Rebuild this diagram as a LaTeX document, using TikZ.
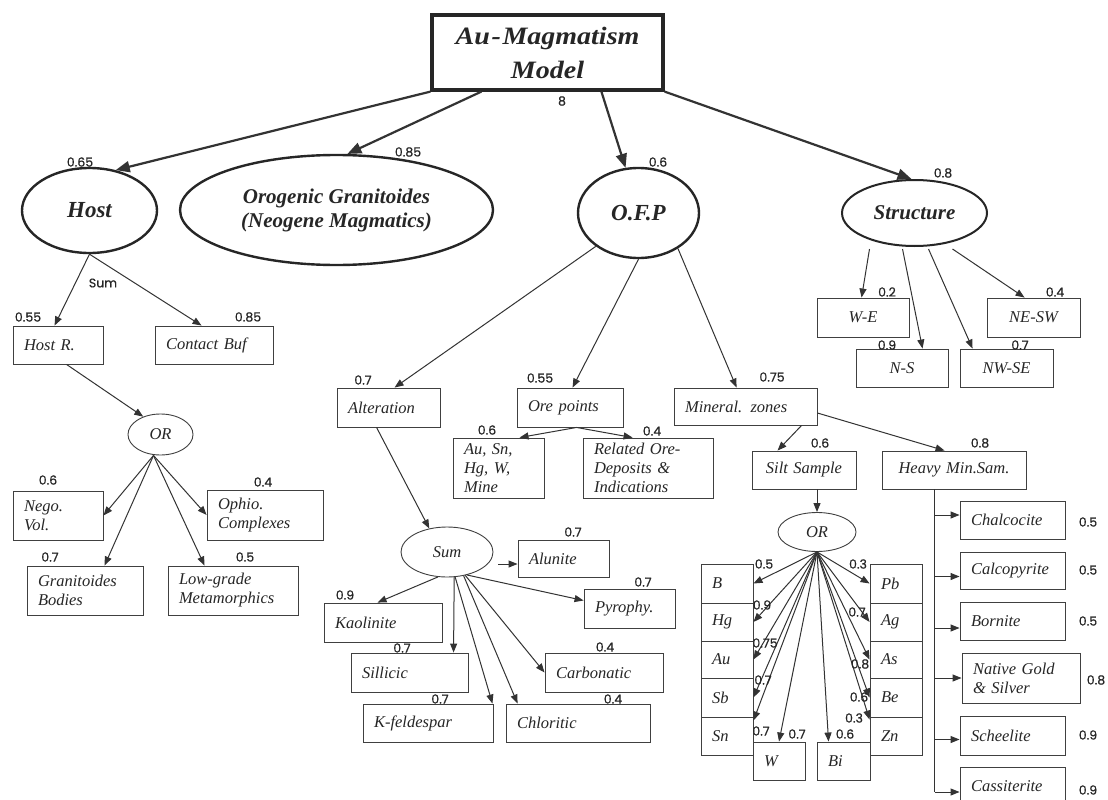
\documentclass[tikz,border=0pt]{standalone}
\usepackage{graphicx}
\usepackage{fontspec}
\setmainfont{Liberation Serif}
\newfontfamily\hand{Poppins}[FakeBold=0.6]
\usetikzlibrary{arrows.meta,calc,shapes.geometric}
\tikzset{
  ln/.style={draw=black!80, line width=1pt},
  arr/.style={ln, -{Triangle[length=9pt,width=7pt]}},
  bigarr/.style={draw=black!80, line width=2.2pt, -{Triangle[length=14pt,width=11pt]}},
  box/.style={draw=black!75, line width=0.9pt, rectangle, inner xsep=11pt, inner ysep=0pt,
    font=\fontsize{16.5}{19}\selectfont\itshape, text=black!85},
  bigell/.style={draw=black!85, ellipse, line width=2.4pt, inner sep=0pt,
    font=\fontsize{23}{26}\selectfont\bfseries\itshape, text=black!85},
  smell/.style={draw=black!75, ellipse, line width=0.9pt, inner sep=0pt,
    font=\fontsize{16.5}{19}\selectfont\itshape, text=black!85},
  num/.style={font=\hand\fontsize{12.5}{14}\selectfont, text=black!85, inner sep=0pt},
}
\newcommand\mkbox[7][left]{%
  \pgfmathsetmacro\bxw{#5-#3}%
  \pgfmathsetmacro\bxh{#6-#4}%
  \pgfmathsetmacro\bxt{#5-#3-22}%
  \node[box, minimum width=\bxw pt, minimum height=\bxh pt, text width=\bxt pt, align=#1]
    (#2) at ({(#3+#5)/2},{(#4+#6)/2}) {#7};}
\begin{document}
\begin{tikzpicture}[x=1pt,y=-1pt]
\useasboundingbox (0,0) rectangle (1108,800);
\fill[white] (0,0) rectangle (1108,800);
\clip (0,0) rectangle (1108,800);

% ---------- top level ----------
\node[draw=black!85, line width=3.2pt, minimum width=231pt, minimum height=75pt,
  font=\fontsize{25}{34}\selectfont\bfseries\itshape, text=black!85, align=center]
  (top) at (547.5,52.5) {\scalebox{1.12}[1]{Au\kern1.5pt-\kern1.5pt Magmatism}\\\scalebox{1.12}[1]{Model}};
\node[bigell, minimum width=135pt, minimum height=85pt] (host) at (89.5,210.5) {Host};
\node[bigell, minimum width=313pt, minimum height=110pt, align=center,
  font=\fontsize{21}{24}\selectfont\bfseries\itshape] (orog) at (336.5,210)
  {Orogenic Granitoides\\(Neogene Magmatics)};
\node[bigell, minimum width=121pt, minimum height=90pt] (ofp) at (638.5,213) {O.F.P};
\node[bigell, line width=2pt, minimum width=145pt, minimum height=66pt,
  font=\fontsize{21}{24}\selectfont\bfseries\itshape] (struct) at (914.5,213) {Structure};

% ---------- host subtree ----------
\mkbox{hostr}{13}{326}{103}{364}{Host R.}
\mkbox{contact}{155}{326}{273}{364}{Contact Buf}
\node[smell, minimum width=65pt, minimum height=41pt] (or1) at (160.5,434.5) {OR};
\mkbox{nego}{13}{491}{103}{540}{Nego.\\Vol.}
\mkbox{ophio}{207}{490}{323}{540}{Ophio.\\Complexes}
\mkbox{granit}{27}{566}{143}{615}{Granitoides\\Bodies}
\mkbox{lowg}{168}{566}{298}{615}{Low-grade\\Metamorphics}

% ---------- O.F.P subtree ----------
\mkbox{alter}{337}{388}{440}{427}{Alteration}
\mkbox{ore}{517}{388}{623}{427}{Ore points}
\mkbox{mineral}{674}{388}{817}{425}{Mineral. zones}
\mkbox{ausn}{453}{438}{544}{498}{Au, Sn,\\Hg, W,\\Mine}
\mkbox{rel}{583}{438}{713}{498}{Related Ore-\\Deposits \&\\Indications}
\node[smell, minimum width=92pt, minimum height=50pt] (sum) at (447,552) {Sum};
\mkbox{alun}{518}{540}{609}{577}{Alunite}
\mkbox{pyro}{584}{589}{675}{628}{Pyrophy.}
\mkbox{kaol}{324}{603}{442}{642}{Kaolinite}
\mkbox{sil}{351}{653}{468}{692}{Sillicic}
\mkbox{carb}{545}{653}{663}{692}{Carbonatic}
\mkbox{kfeld}{363}{704}{493}{742}{K-feldespar}
\mkbox{chl}{506}{704}{650}{742}{Chloritic}

% ---------- structure subtree ----------
\mkbox[center]{we}{817}{298}{909}{337}{W-E}
\mkbox[center]{ns}{856}{349}{948}{387}{N-S}
\mkbox[center]{nwse}{960}{349}{1053}{387}{NW-SE}
\mkbox[center]{nesw}{987}{298}{1080}{337}{NE-SW}

% ---------- mineral zones subtree ----------
\mkbox[center]{silt}{752}{451}{856}{489}{Silt Sample}
\mkbox[center]{heavy}{882}{451}{1026}{489}{Heavy Min.Sam.}
\node[smell, minimum width=78pt, minimum height=39pt] (or2) at (817,532) {OR};
\mkbox{bb}{701}{564}{753}{603}{B}
\mkbox{hg}{701}{603}{753}{641}{Hg}
\mkbox{au}{701}{641}{753}{678}{Au}
\mkbox{sb}{701}{678}{753}{717}{Sb}
\mkbox{sn}{701}{717}{753}{755}{Sn}
\mkbox{ww}{753}{742}{805}{780}{W}
\mkbox{bi}{817}{742}{870}{780}{Bi}
\mkbox{pb}{870}{564}{922}{603}{Pb}
\mkbox{ag}{870}{603}{922}{641}{Ag}
\mkbox{as}{870}{641}{922}{678}{As}
\mkbox{be}{870}{678}{922}{717}{Be}
\mkbox{zn}{870}{717}{922}{755}{Zn}
\mkbox{chal}{960}{501}{1065}{539}{Chalcocite}
\mkbox{calc}{960}{552}{1065}{589}{Calcopyrite}
\mkbox{born}{960}{602}{1065}{640}{Bornite}
\mkbox{nat}{962}{653}{1080}{703}{Native Gold\\\& Silver}
\mkbox{sche}{960}{716}{1065}{755}{Scheelite}
\mkbox{cass}{960}{767}{1065}{805}{Cassiterite}

% ---------- connectors: top ----------
\draw[bigarr] (top.south west) -- (host.57);
\draw[bigarr] ([xshift=51]top.south west) -- (orog.79);
\draw[bigarr] ([xshift=171]top.south west) -- (ofp.106);
\draw[bigarr] (top.south east) -- (struct.95);

% host
\draw[arr] (host.south) -- ([xshift=42]hostr.north west);
\draw[arr] (host.south) -- ([xshift=47]contact.north west);
\draw[arr] ([xshift=54]hostr.south west) -- (or1.134);
\coordinate (or1b) at ([xshift=-7]or1.south);
\draw[arr] (or1b) -- (nego.east);
\draw[arr] (or1b) -- (ophio.west);
\draw[arr] (or1b) -- ([xshift=78]granit.north west);
\draw[arr] (or1b) -- ([xshift=37]lowg.north west);

% O.F.P
\draw[arr] (ofp.218) -- ([xshift=58]alter.north west);
\draw[arr] (ofp.south) -- ([xshift=56]ore.north west);
\draw[arr] (ofp.318) -- ([xshift=63]mineral.north west);
\draw[arr] ([xshift=60]ore.south west) -- ([xshift=67]ausn.north west);
\draw[arr] ([xshift=60]ore.south west) -- ([xshift=50]rel.north west);
\draw[arr] ([xshift=40]alter.south west) -- (sum.127);
\coordinate (sumr) at ([yshift=-12]sum.east);
\draw[arr] ([xshift=5]sumr) -- (sumr -| alun.west);
\draw[arr] (sum.311) -- ([yshift=8]pyro.west);
\draw[arr] (sum.250) -- ([xshift=54]kaol.north west);
\draw[arr] (sum.286) -- ([xshift=103]sil.north west);
\draw[arr] (sum.288) -- ([xshift=-1]kfeld.north east);
\draw[arr] (sum.305) -- ([xshift=12]chl.north west);
\draw[arr] (sum.308) -- (carb.west);

% structure
\coordinate (s1) at ([xshift=-45,yshift=-2]struct.south);
\coordinate (s2) at ([xshift=-12,yshift=-2]struct.south);
\coordinate (s3) at ([xshift=14,yshift=-2]struct.south);
\coordinate (s4) at ([xshift=38,yshift=-2]struct.south);
\draw[arr] (s1) -- ([xshift=45]we.north west);
\draw[arr] (s2) -- ([xshift=67]ns.north west);
\draw[arr] (s3) -- ([xshift=13]nwse.north west);
\draw[arr] (s4) -- ([xshift=38]nesw.north west);

% mineral zones
\draw[arr] ([xshift=128]mineral.south west) -- ([xshift=26]silt.north west);
\draw[arr] ([yshift=-6.5]mineral.east) -- ([xshift=63]heavy.north west);
\draw[arr] (or2.north |- silt.south) -- (or2.north);
\coordinate (fan) at (or2.south);
\draw[arr] (fan) -- (bb.east);
\draw[arr] (fan) -- (hg.east);
\draw[arr] (fan) -- (au.east);
\draw[arr] (fan) -- (sb.east);
\draw[arr] (fan) -- ([yshift=-4]sn.north east);
\draw[arr] (fan) -- (ww.north);
\draw[arr] (fan) -- ([xshift=12]bi.north west);
\draw[arr] (fan) -- (pb.west);
\draw[arr] (fan) -- (ag.west);
\draw[arr] (fan) -- (as.west);
\draw[arr] (fan) -- (be.west);
\draw[arr] (fan) -- ([yshift=-3]zn.north west);

% heavy minerals
\coordinate (hv) at ([xshift=53]heavy.south west);
\coordinate (h1) at ([yshift=5]chal.west);
\coordinate (h2) at ([yshift=-6]calc.west);
\coordinate (h3) at ([yshift=-7]born.west);
\coordinate (h4) at (nat.west);
\coordinate (h5) at ([yshift=-4]sche.west);
\coordinate (h6) at ([yshift=-6]cass.west);
\draw[ln] (hv) -- (hv |- h6);
\foreach \i in {1,...,6} \draw[arr] (hv |- h\i) -- (h\i);

% ---------- numeric labels ----------
\node[num] (n0) at (562,101) {8};
\node[num] (n1) at (80,162) {0.65};
\node[num] (n2) at (408,152) {0.85};
\node[num] (n3) at (658,162) {0.6};
\node[num] (n4) at (943,173) {0.8};
\node[num] (nsum) at (103,283) {Sum};
\node[num] (n5) at (28,317) {0.55};
\node[num] (n6) at (248,317) {0.85};
\node[num] (n7) at (48,480) {0.6};
\node[num] (n8) at (263,482) {0.4};
\node[num] (n9) at (50,557) {0.7};
\node[num] (n10) at (245,557) {0.5};
\node[num] (n11) at (363,380) {0.7};
\node[num] (n12) at (540,378) {0.55};
\node[num] (n13) at (772,377) {0.75};
\node[num] (n14) at (487,430) {0.6};
\node[num] (n15) at (652,431) {0.4};
\node[num] (n16) at (887,292) {0.2};
\node[num] (n17) at (887,345) {0.9};
\node[num] (n18) at (1020,345) {0.7};
\node[num] (n19) at (1055,292) {0.4};
\node[num] (n20) at (820,443) {0.6};
\node[num] (n21) at (980,443) {0.8};
\node[num] (n22) at (573,532) {0.7};
\node[num] (n23) at (643,582) {0.7};
\node[num] (n24) at (345,595) {0.9};
\node[num] (n25) at (402,648) {0.7};
\node[num] (n26) at (440,699) {0.7};
\node[num] (n27) at (613,699) {0.4};
\node[num] (n28) at (605,647) {0.4};
\node[num] (n29) at (764,564) {0.5};
\node[num] (n30) at (762,605) {0.9};
\node[num] (n31) at (765,643) {0.75};
\node[num] (n32) at (763,680) {0.7};
\node[num] (n33) at (761,731) {0.7};
\node[num] (n34) at (797,734) {0.7};
\node[num] (n35) at (845,734) {0.6};
\node[num] (n36) at (858,564) {0.3};
\node[num] (n37) at (857,612) {0.7};
\node[num] (n38) at (860,664) {0.8};
\node[num] (n39) at (859,697) {0.6};
\node[num] (n40) at (854,718) {0.3};
\node[num] (n41) at (1088,522) {0.5};
\node[num] (n42) at (1088,570) {0.5};
\node[num] (n43) at (1088,621) {0.5};
\node[num] (n44) at (1096,680) {0.8};
\node[num] (n45) at (1088,735) {0.9};
\node[num] (n46) at (1088,790) {0.9};
\end{tikzpicture}
\end{document}
